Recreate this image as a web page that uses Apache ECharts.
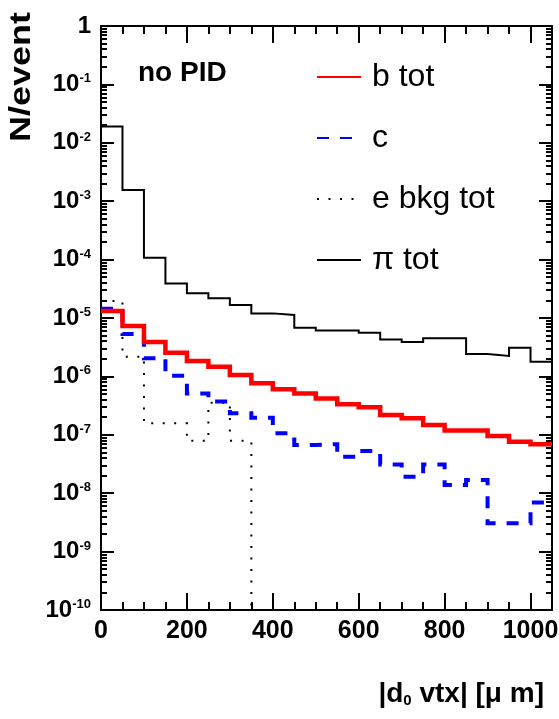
<!DOCTYPE html>
<html>
<head>
<meta charset="utf-8">
<script src="https://cdn.jsdelivr.net/npm/echarts@6/dist/echarts.min.js"></script>
<style>
html, body { margin: 0; padding: 0; background: #fff; }
#main { width: 559px; height: 719px; }
</style>
</head>
<body>
<div id="main"></div>
<script>
// bin edges (|d0 vtx| in um), 50 um bins
const binEdges = [0, 50, 100, 150, 200, 250, 300, 350, 400, 450, 500, 550, 600, 650, 700, 750, 800, 850, 900, 950, 1000, 1050];
// N/event per bin (0 = empty bin)
const bTot = [1.32e-5, 7.3e-6, 3.9e-6, 2.55e-6, 1.84e-6, 1.47e-6, 1.06e-6, 7.6e-7, 6.0e-7, 5.1e-7, 4.2e-7, 3.33e-7, 2.96e-7, 2.18e-7, 1.92e-7, 1.47e-7, 1.18e-7, 1.18e-7, 9.5e-8, 7.6e-8, 6.9e-8];
const cTot = [1.44e-5, 5.3e-6, 2.04e-6, 1.03e-6, 5.1e-7, 3.7e-7, 2.33e-7, 1.96e-7, 1.06e-7, 6.7e-8, 6.9e-8, 4.2e-8, 5.3e-8, 3.1e-8, 1.92e-8, 3.1e-8, 1.38e-8, 1.68e-8, 3.05e-9, 3.05e-9, 6.9e-9];
const eBkgTot = [1.95e-5, 2.17e-6, 1.57e-7, 1.57e-7, 7.9e-8, 3.55e-7, 7.9e-8, 0, 0, 0, 0, 0, 0, 0, 0, 0, 0, 0, 0, 0, 0];
const piTot = [1.9e-2, 1.56e-3, 1.08e-4, 3.9e-5, 2.65e-5, 2.17e-5, 1.67e-5, 1.2e-5, 1.13e-5, 6.8e-6, 6.1e-6, 6.1e-6, 5.6e-6, 4.3e-6, 3.9e-6, 4.5e-6, 4.5e-6, 2.42e-6, 2.24e-6, 3.1e-6, 1.79e-6];

// ticks
const xMajorTicks = [0, 200, 400, 600, 800, 1000];
const xMinorTicks = [50, 100, 150, 250, 300, 350, 450, 500, 550, 650, 700, 750, 850, 900, 950];
const yMinorTicks = []; // log10 of 2..9 x 10^n
for (let n = -10; n < 0; n++) {
    for (let k = 2; k <= 9; k++) yMinorTicks.push(n + Math.log10(k));
}

const FONT = 'Liberation Sans, Arial, Helvetica, sans-serif';
const EMPTY = 1e-12; // below the axis floor, so empty bins fall off the frame

// histogram -> step points, one per left bin edge plus the closing edge
const toSteps = (vals) => {
    const pts = vals.map((v, i) => [binEdges[i], v > 0 ? v : EMPTY]);
    pts.push([binEdges[vals.length], pts[pts.length - 1][1]]);
    return pts;
};

const mkSeries = (name, vals, color, width, type, z) => ({
    name: name,
    type: 'line',
    step: 'end',
    data: toSteps(vals),
    xAxisIndex: 0,
    yAxisIndex: 0,
    symbol: 'none',
    clip: true,
    z: z,
    lineStyle: { color: color, width: width, type: type, cap: 'butt', join: 'miter' },
    itemStyle: { color: color }
});

const frame = { show: true, onZero: false, lineStyle: { color: '#000', width: 2 } };
const noLabel = { show: false };
const noSplit = { show: false };

// x axes: bottom/top, major + minor ticks
const xAxis = [];
['bottom', 'top'].forEach((pos) => {
    xAxis.push({
        type: 'value', position: pos, min: 0, max: 1050,
        axisLine: frame,
        axisTick: { show: true, inside: true, length: 17, customValues: xMajorTicks, lineStyle: { color: '#000', width: 2 } },
        axisLabel: pos === 'bottom' ? {
            customValues: xMajorTicks, margin: 9, color: '#000',
            formatter: (v) => String(v),
            fontSize: 25, fontWeight: 'bold', fontFamily: FONT
        } : noLabel,
        splitLine: noSplit
    });
    xAxis.push({
        type: 'value', position: pos, min: 0, max: 1050,
        axisLine: { show: false, onZero: false },
        axisTick: { show: true, inside: true, length: 8, customValues: xMinorTicks, lineStyle: { color: '#000', width: 2 } },
        axisLabel: noLabel,
        splitLine: noSplit
    });
});

// y axes: log scale for the data, plus linear (log10) twins for the minor ticks
const yAxis = [];
['left', 'right'].forEach((pos) => {
    yAxis.push({
        type: 'log', logBase: 10, position: pos, min: 1e-10, max: 1, interval: 1,
        axisLine: frame,
        axisTick: { show: true, inside: true, length: 13, lineStyle: { color: '#000', width: 2 } },
        minorTick: { show: false },
        axisLabel: pos === 'left' ? {
            margin: 10,
            formatter: (v) => {
                const e = Math.round(Math.log10(v));
                return e === 0 ? '{b|1}' : '{b|10}{s|' + e + '}';
            },
            rich: {
                b: { fontSize: 24, fontWeight: 'bold', fontFamily: FONT, color: '#000', lineHeight: 24, verticalAlign: 'top' },
                s: { fontSize: 13, fontWeight: 'bold', fontFamily: FONT, color: '#000', lineHeight: 13, verticalAlign: 'top' }
            }
        } : noLabel,
        splitLine: noSplit
    });
    yAxis.push({
        type: 'value', position: pos, min: -10, max: 0,
        axisLine: { show: false, onZero: false },
        axisTick: { show: true, inside: true, length: 6, customValues: yMinorTicks, lineStyle: { color: '#000', width: 2 } },
        axisLabel: noLabel,
        splitLine: noSplit
    });
});

const option = {
    animation: false,
    backgroundColor: '#fff',
    grid: { left: 101, top: 26, right: 7, bottom: 109, containLabel: false, outerBoundsMode: 'none' },
    xAxis: xAxis,
    yAxis: yAxis,
    legend: {
        orient: 'vertical', left: 316, top: 61, padding: 0,
        itemGap: 29, itemWidth: 44, itemHeight: 14,
        selectedMode: false,
        itemStyle: { opacity: 0 },
        data: ['b tot', 'c', 'e bkg tot', 'π tot'],
        textStyle: { fontSize: 32, lineHeight: 32, fontFamily: FONT, color: '#000', padding: [0, 0, 0, 6] }
    },
    graphic: [
        {
            type: 'text', x: 138, y: 73,
            style: { text: 'no PID', fontSize: 28, fontWeight: 'bold', fontFamily: FONT, fill: '#000', align: 'left', verticalAlign: 'middle' }
        },
        {
            type: 'text', x: 22, y: 12, rotation: Math.PI / 2, scaleX: 1.2,
            style: { text: 'N/event', fontSize: 30, fontWeight: 'bold', fontFamily: FONT, fill: '#000', align: 'right', verticalAlign: 'middle' }
        },
        {
            type: 'text', x: 544, y: 691,
            style: {
                text: '{m||d}{sub|0}{m| vtx| [μ m]}',
                align: 'right', verticalAlign: 'middle',
                rich: {
                    m: { fontSize: 28, fontWeight: 'bold', fontFamily: FONT, fill: '#000', lineHeight: 34, verticalAlign: 'bottom' },
                    sub: { fontSize: 15, fontWeight: 'bold', fontFamily: FONT, fill: '#000', lineHeight: 15, verticalAlign: 'bottom' }
                }
            }
        }
    ],
    series: [
        mkSeries('π tot', piTot, '#000', 2, 'solid', 2),
        mkSeries('e bkg tot', eBkgTot, '#000', 2, [2, 9.5], 3),
        mkSeries('c', cTot, '#0000ff', 4, [12, 11], 4),
        mkSeries('b tot', bTot, '#ff0000', 4.5, 'solid', 5)
    ]
};

const chart = echarts.init(document.getElementById('main'), null, { renderer: 'canvas' });
chart.setOption(option);
</script>
</body>
</html>
